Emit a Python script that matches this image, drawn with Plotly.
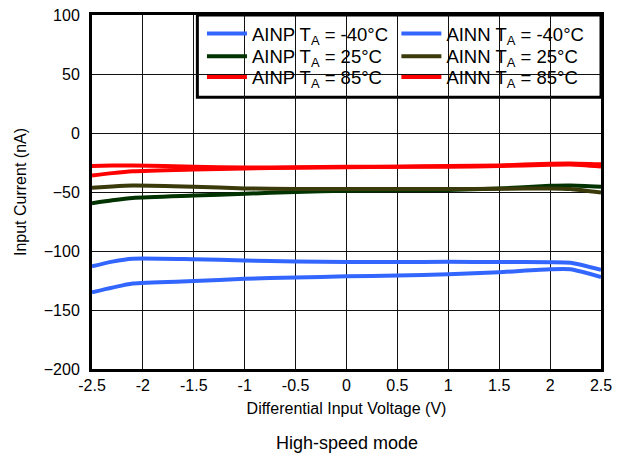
import plotly.graph_objects as go

x_vals = [-2.5, -2.3, -2.1, -1.5, -1.0, -0.5, 0.0, 0.5, 1.0, 1.5, 2.0, 2.2, 2.5]

ainp_m40 = [-135, -131, -127.5, -125.5, -123.5, -122.5, -121.5, -120.8, -119.8, -118, -115.5, -115.5, -122]
ainn_m40 = [-113, -109, -106.5, -107, -108, -109, -109.3, -109.3, -109.2, -109.3, -109.5, -110, -116]
ainp_25 = [-59.5, -57, -55, -53, -51.5, -50, -49, -48.5, -48.3, -47, -44.8, -44.5, -45.5]
ainn_25 = [-46.5, -45.3, -44.5, -45.5, -47, -47.5, -47.5, -47.5, -47.5, -47.3, -47, -47.5, -50.5]
ainp_85 = [-36, -34, -32.5, -31, -30, -29.5, -29, -28.6, -28.5, -28, -27, -26.8, -28.5]
ainn_85 = [-28, -27.6, -27.5, -28.5, -29.3, -29, -28.5, -28.5, -28, -27.5, -26, -25.8, -26.5]

names = ["AINP T<sub>A</sub> = -40°C", "AINN T<sub>A</sub> = -40°C",
         "AINP T<sub>A</sub> = 25°C", "AINN T<sub>A</sub> = 25°C",
         "AINP T<sub>A</sub> = 85°C", "AINN T<sub>A</sub> = 85°C"]
series = [ainp_m40, ainn_m40, ainp_25, ainn_25, ainp_85, ainn_85]
colors = ["#3366FF", "#3366FF", "#003300", "#3A3A0A", "#FF0000", "#FF0000"]
legend_ids = ["legend", "legend2", "legend3", "legend4", "legend5", "legend6"]

x_ticks = [-2.5, -2, -1.5, -1, -0.5, 0, 0.5, 1, 1.5, 2, 2.5]
x_ticklabels = ["-2.5", "-2", "-1.5", "-1", "-0.5", "0", "0.5", "1", "1.5", "2", "2.5"]
y_ticks = [-200, -150, -100, -50, 0, 50, 100]

FONT = "Liberation Sans, Arial, sans-serif"

fig = go.Figure()
for name, ys, c, lg in zip(names, series, colors, legend_ids):
    fig.add_trace(go.Scatter(x=x_vals, y=ys, mode="lines", name=name,
                             line=dict(color=c, width=4, shape="spline", smoothing=0.6),
                             legend=lg))

legend_common = dict(bgcolor="rgba(0,0,0,0)", borderwidth=0, font=dict(family=FONT, size=18.5, color="#000"),
                     yanchor="top", xanchor="left", tracegroupgap=0, itemwidth=40)

col_x = [0.216, 0.598]
row_y = [1.0, 0.936, 0.877]
legend_layout = {}
for i, lg in enumerate(legend_ids):
    legend_layout[lg] = dict(x=col_x[i % 2], y=row_y[i // 2], **legend_common)

fig.update_layout(
    width=623, height=457,
    margin=dict(l=92, r=22, t=15, b=88, autoexpand=False),
    plot_bgcolor="white", paper_bgcolor="white",
    font=dict(family=FONT, size=16, color="#000"),
    showlegend=True,
    xaxis=dict(range=[-2.5, 2.5], tickmode="array", tickvals=x_ticks, ticktext=x_ticklabels,
               showgrid=True, gridcolor="#111", gridwidth=1, zeroline=False,
               showline=True, linecolor="#000", linewidth=3, mirror=True, ticks="",
               title=dict(text="Differential Input Voltage (V)", font=dict(size=16), standoff=10),
               tickfont=dict(size=16), automargin=False),
    yaxis=dict(range=[-200, 100], tickmode="array", tickvals=y_ticks,
               showgrid=True, gridcolor="#111", gridwidth=1, zeroline=False,
               showline=True, linecolor="#000", linewidth=3, mirror=True, ticks="",
               ticklabelstandoff=6,
               title=dict(text="Input Current (nA)", font=dict(size=16), standoff=14),
               tickfont=dict(size=16), automargin=False),
    shapes=[dict(type="rect", xref="paper", yref="paper", x0=0.207, x1=1.0, y0=0.768, y1=1.0,
                 line=dict(color="#000", width=3), fillcolor="white", layer="below")],
    annotations=[dict(text="High-speed mode", xref="paper", yref="paper", x=0.5, y=-0.175,
                      xanchor="center", yanchor="top", showarrow=False,
                      font=dict(family=FONT, size=18, color="#000"))],
    **legend_layout,
)

fig.write_html("out.html", config={"displayModeBar": False},
               post_script="document.body.style.margin='0';document.body.style.padding='0';")
